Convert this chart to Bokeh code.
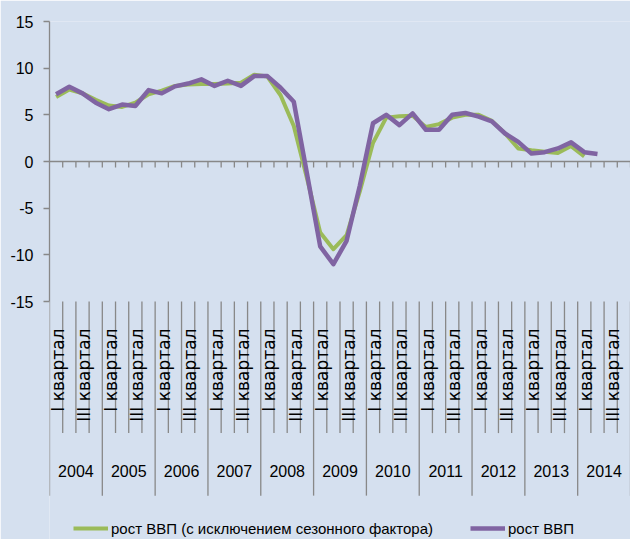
import math
from bokeh.plotting import figure
from bokeh.models import Range1d, FixedTicker, Legend, LegendItem, LinearAxis
from bokeh.core.properties import value
from bokeh.embed import file_html
from bokeh.resources import INLINE

# ---- data ----
years = [str(y) for y in range(2004, 2015)]
quarter_labels = ["I квартал", "", "III квартал", ""]
y_ticks = [-15, -10, -5, 0, 5, 10, 15]

# рост ВВП (с исключением сезонного фактора), 2004 Q1 .. 2014 Q1
gdp_sa = [6.9, 7.7, 7.3, 6.6, 6.0, 5.85, 6.3, 7.2, 7.6, 8.1, 8.25, 8.3,
          8.3, 8.35, 8.45, 9.3, 9.1, 7.1, 3.8, -1.8, -7.6, -9.4, -7.9, -3.2,
          2.0, 4.7, 4.85, 4.9, 3.7, 4.0, 4.7, 5.0, 5.0, 4.35, 3.0, 1.4,
          1.2, 1.05, 0.9, 1.65, 0.55]
# рост ВВП, 2004 Q1 .. 2014 Q2
gdp = [7.2, 8.0, 7.3, 6.3, 5.6, 6.1, 5.95, 7.65, 7.3, 8.05, 8.35, 8.8,
       8.1, 8.65, 8.1, 9.15, 9.15, 7.9, 6.4, -1.3, -9.1, -11.0, -8.5, -2.6,
       4.1, 5.0, 3.9, 5.15, 3.4, 3.4, 5.0, 5.2, 4.8, 4.3, 3.0, 2.1,
       0.85, 1.0, 1.4, 2.05, 1.0, 0.8]

FONT = "Liberation Sans"
VFONT = "DejaVu Sans"
BG = "#d5e0ef"
GRAY = "#888888"
GREEN = "#9bbb59"
PURPLE = "#8064a2"

n_cat = len(years) * 4

p = figure(width=630, height=539,
           x_range=Range1d(0, n_cat), y_range=Range1d(-40.5, 15.0),
           output_backend="svg", toolbar_location=None,
           x_axis_type=None, y_axis_type=None,
           min_border_left=49, min_border_right=0,
           min_border_top=21, min_border_bottom=0,
           background_fill_color=BG, border_fill_color=BG,
           outline_line_color=None)

yaxis = LinearAxis(bounds=(-15, 15), ticker=FixedTicker(ticks=y_ticks))
yaxis.axis_line_color = GRAY
yaxis.axis_line_width = 1.3
yaxis.major_tick_line_color = GRAY
yaxis.major_tick_line_width = 1.3
yaxis.major_tick_out = 6
yaxis.major_tick_in = 0
yaxis.minor_tick_line_color = None
yaxis.major_label_text_font = FONT
yaxis.major_label_text_font_size = "16px"
yaxis.major_label_text_color = "#000000"
yaxis.major_label_standoff = 10
yaxis.major_label_overrides = {t: str(t) for t in y_ticks}
p.add_layout(yaxis, "left")

# zero line with category tick marks
p.segment(x0=[0], y0=[0], x1=[n_cat], y1=[0], line_color=GRAY, line_width=1.3)
ks = list(range(1, n_cat + 1))
p.segment(x0=ks, y0=[0] * len(ks), x1=ks, y1=[-0.65] * len(ks),
          line_color=GRAY, line_width=1.3)

# multi-level category separators below the plot
ks = list(range(0, n_cat + 1))
bottoms = [-35.8 if k % 4 == 0 else -29.1 for k in ks]
p.segment(x0=ks, y0=[-15] * len(ks), x1=ks, y1=bottoms,
          line_color=GRAY, line_width=1.3)

# quarter labels (rotated)
qx, qt = [], []
for yi in range(len(years)):
    for qi, lab in enumerate(quarter_labels):
        if lab:
            qx.append(yi * 4 + qi + 0.65)
            qt.append(lab)
p.text(x=qx, y=[-17.9] * len(qx), text=qt, angle=math.pi / 2,
       text_align="right", text_baseline="middle",
       text_font=value(VFONT), text_font_size="17px", text_color="#000000")

# year labels
p.text(x=[yi * 4 + 2 for yi in range(len(years))], y=[-33.2] * len(years),
       text=years, text_align="center", text_baseline="middle",
       text_font=value(FONT), text_font_size="16px", text_color="#000000")

# series
r_sa = p.line([i + 0.5 for i in range(len(gdp_sa))], gdp_sa,
              line_color=GREEN, line_width=4, line_join="round")
r_g = p.line([i + 0.5 for i in range(len(gdp))], gdp,
             line_color=PURPLE, line_width=4.5, line_join="round")

legend = Legend(items=[LegendItem(label="рост ВВП (с исключением сезонного фактора)", renderers=[r_sa]),
                       LegendItem(label="рост ВВП", renderers=[r_g])],
                orientation="horizontal", location=(24, 1),
                background_fill_alpha=0, border_line_color=None,
                padding=0, margin=0, spacing=37,
                glyph_width=35, glyph_height=20, label_standoff=3,
                label_height=20,
                label_text_font=FONT, label_text_font_size="15px",
                label_text_color="#000000")
p.add_layout(legend)

open("out.html", "w").write(file_html(p, INLINE))
